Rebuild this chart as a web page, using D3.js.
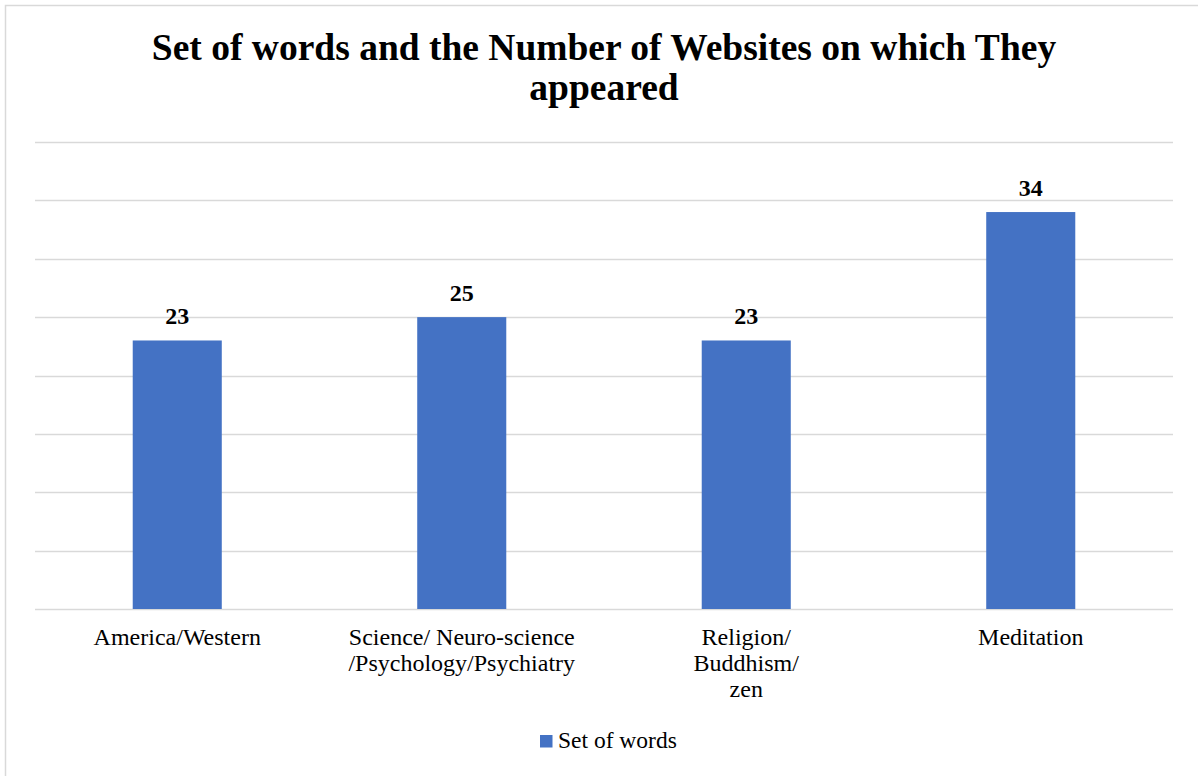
<!DOCTYPE html>
<html>
<head>
<meta charset="utf-8">
<script src="https://cdn.jsdelivr.net/npm/d3@7"></script>
<style>
  body { margin: 0; background: #fff; }
  text { font-family: "Liberation Serif", "Times New Roman", serif; fill: #000; }
</style>
</head>
<body>
<div class="chart"></div>
<script>
// chart data
const categories = [
    ["America/Western"],
    ["Science/ Neuro-science", "/Psychology/Psychiatry"],
    ["Religion/", "Buddhism/", "zen"],
    ["Meditation"]
];
const values = [23, 25, 23, 34];
const seriesName = "Set of words";
const titleLines = ["Set of words and the Number of Websites on which They", "appeared"];
const yTicks = [0, 5, 10, 15, 20, 25, 30, 35, 40];

const W = 1198, H = 776;
const margin = {top: 142, left: 35, right: 25, bottom: 167};
const width = W - margin.left - margin.right,
      height = H - margin.top - margin.bottom;

const svg = d3.select(".chart")
    .append("svg")
    .attr("width", W)
    .attr("height", H);

// outer frame (runs off the right / bottom edge like the original)
svg.append("rect")
    .attr("x", 5.5).attr("y", 5.5)
    .attr("width", W + 20).attr("height", H + 20)
    .attr("fill", "none")
    .attr("stroke", "#d9d9d9")
    .attr("stroke-width", 1.5);

const gr = svg.append("g")
    .attr("transform", "translate(" + margin.left + "," + margin.top + ")");

const xScale = d3.scaleBand()
    .domain(d3.range(values.length))
    .range([0, width])
    .paddingInner(0.687)
    .paddingOuter(0.3435);

const yScale = d3.scaleLinear()
    .domain([0, 40])
    .range([height, 0]);

// gridlines
gr.selectAll(".grid")
    .data(yTicks)
    .join("line")
    .attr("class", "grid")
    .attr("x1", 0).attr("x2", width)
    .attr("y1", d => Math.round(yScale(d)) + 0.5)
    .attr("y2", d => Math.round(yScale(d)) + 0.5)
    .attr("stroke", "#d9d9d9")
    .attr("stroke-width", 1.3);

// bars
gr.selectAll(".bar")
    .data(values)
    .join("rect")
    .attr("class", "bar")
    .attr("x", (d, i) => xScale(i))
    .attr("y", d => yScale(d))
    .attr("width", xScale.bandwidth())
    .attr("height", d => height - yScale(d))
    .attr("fill", "#4472c4");

// value labels
gr.selectAll(".val")
    .data(values)
    .join("text")
    .attr("class", "val")
    .attr("x", (d, i) => xScale(i) + xScale.bandwidth() / 2)
    .attr("y", d => yScale(d) - 16)
    .attr("text-anchor", "middle")
    .style("font-size", "24px")
    .style("font-weight", "bold")
    .text(d => d);

// category labels
const cats = gr.selectAll(".cat")
    .data(categories)
    .join("text")
    .attr("class", "cat")
    .attr("text-anchor", "middle")
    .attr("transform", (d, i) => "translate(" + (xScale(i) + xScale.bandwidth() / 2) + "," + (height + 36) + ")")
    .style("font-size", "24px");

cats.selectAll("tspan")
    .data(d => d)
    .join("tspan")
    .attr("x", 0)
    .attr("y", (d, i) => i * 26)
    .text(d => d);

// title
svg.append("text")
    .attr("text-anchor", "middle")
    .style("font-size", "37.5px")
    .style("font-weight", "bold")
    .selectAll("tspan")
    .data(titleLines)
    .join("tspan")
    .attr("x", margin.left + width / 2)
    .attr("y", (d, i) => 60 + i * 40)
    .text(d => d);

// legend
const lg = svg.append("g")
    .attr("transform", "translate(540,735)");
lg.append("rect")
    .attr("width", 12.5).attr("height", 12.5)
    .attr("fill", "#4472c4");
lg.append("text")
    .attr("x", 18).attr("y", 13)
    .style("font-size", "23.5px")
    .text(seriesName);
</script>
</body>
</html>
